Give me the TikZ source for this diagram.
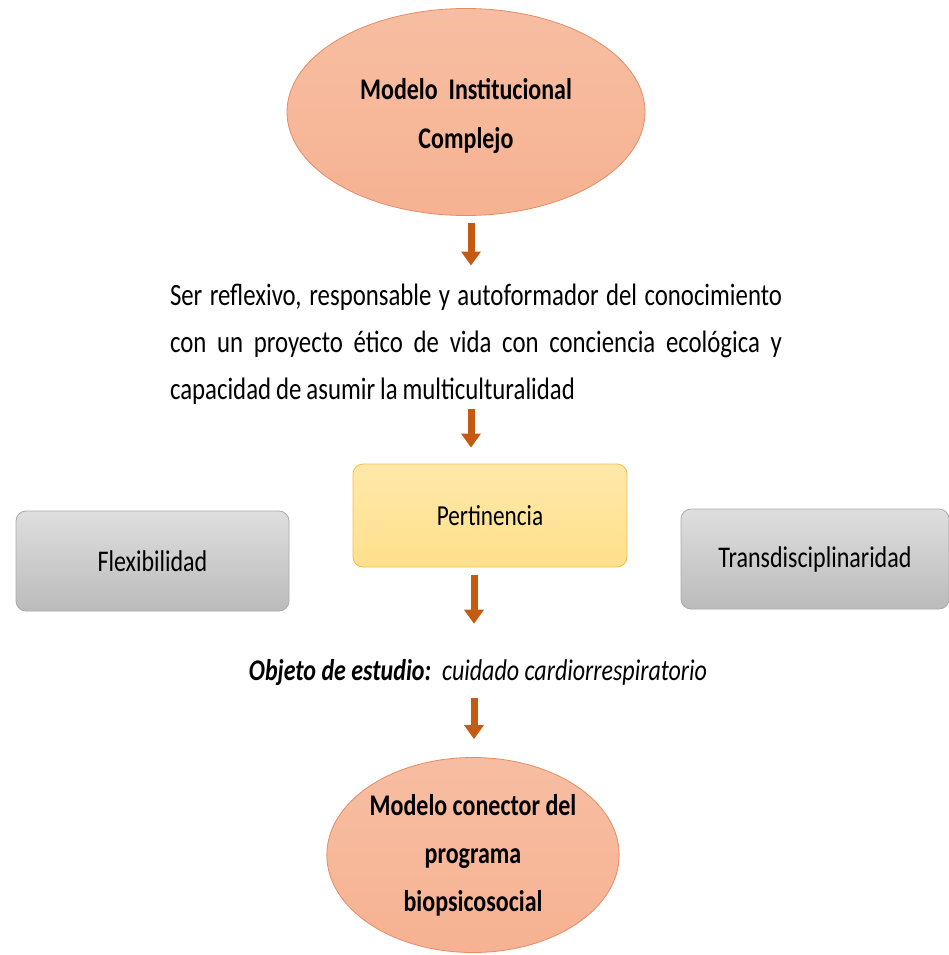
\documentclass[tikz,border=0pt]{standalone}
\usepackage{fontspec}
\setmainfont{Carlito}[FakeStretch=0.8]
\usetikzlibrary{shapes.geometric,arrows.meta}
\definecolor{salmon}{RGB}{246,178,146}
\definecolor{salmonline}{RGB}{228,140,100}
\definecolor{arrowc}{RGB}{197,90,17}
\definecolor{yelfill}{RGB}{255,224,140}
\definecolor{yelline}{RGB}{244,190,70}
\definecolor{grayfill}{RGB}{208,208,208}
\definecolor{grayline}{RGB}{170,170,170}
\tikzset{
  oval/.style={ellipse, draw=salmonline, line width=0.8pt, top color=salmon!85!white, bottom color=salmon, inner sep=0pt, align=center, font=\fontsize{30}{48}\selectfont\bfseries},
  sidebox/.style={rectangle, rounded corners=10pt, draw=grayline, line width=0.8pt, top color=grayfill!70!white, bottom color=grayfill!90!black, align=center, font=\fontsize{30}{36}\selectfont},
  yelbox/.style={rectangle, rounded corners=10pt, draw=yelline, line width=0.8pt, top color=yelfill!75!white, bottom color=yelfill, align=center, font=\fontsize{29}{35}\selectfont},
  arr/.style={draw=arrowc, line width=7pt, -{Triangle[width=19pt,length=14pt]}},
}
\begin{document}
\begin{tikzpicture}[x=1pt,y=-1pt]
\useasboundingbox (0,0) rectangle (948,955);
% nodes
\node[oval, minimum width=358pt, minimum height=207pt, font=\fontsize{30}{50}\selectfont\bfseries] (top) at (466,112) {\raisebox{-12pt}[0pt][0pt]{Modelo\ \ Institucional}\\\raisebox{-12pt}[0pt][0pt]{Complejo}};
\node[text width=612pt, align=justify, inner sep=0pt, font=\fontsize{31}{47}\selectfont] (para) at (476,344)
  {Ser reflexivo, responsable y autoformador del conocimiento\linebreak con un proyecto ético de vida con conciencia ecológica y\linebreak {\spaceskip=0.16em capacidad de asumir la multiculturalidad}\hfill\null};
\node[yelbox, minimum width=274pt, minimum height=103pt] (pert) at (490,515.5) {\raisebox{-2pt}{Pertinencia}};
\node[sidebox, minimum width=273pt, minimum height=100pt] (flex) at (152.5,561) {Flexibilidad};
\node[sidebox, minimum width=268pt, minimum height=100pt] (trans) at (815,559) {Transdisciplinaridad};
\node[inner sep=0pt, font=\fontsize{30}{36}\selectfont] (obj) at (478,673) {\bfseries\itshape Objeto de estudio:\ \ \mdseries cuidado cardiorrespiratorio};
\node[oval, minimum width=282pt, minimum height=195pt] (bot) at (473,855) {Modelo conector del\\programa\\biopsicosocial};
% arrow columns
\coordinate (c1) at (471,0);
\coordinate (c2) at (474,0);
% connectors
\draw[arr] ([yshift=-7pt]top.south -| c1) -- ([yshift=18pt]para.north -| c1);
\draw[arr] ([yshift=-5pt]para.south -| c1) -- ([yshift=16pt]pert.north -| c1);
\draw[arr] ([yshift=-8pt]pert.south -| c2) -- ([yshift=36pt]obj.north -| c2);
\draw[arr] ([yshift=-12pt]obj.south -| c2) -- ([yshift=18pt]bot.north -| c2);
\end{tikzpicture}
\end{document}
